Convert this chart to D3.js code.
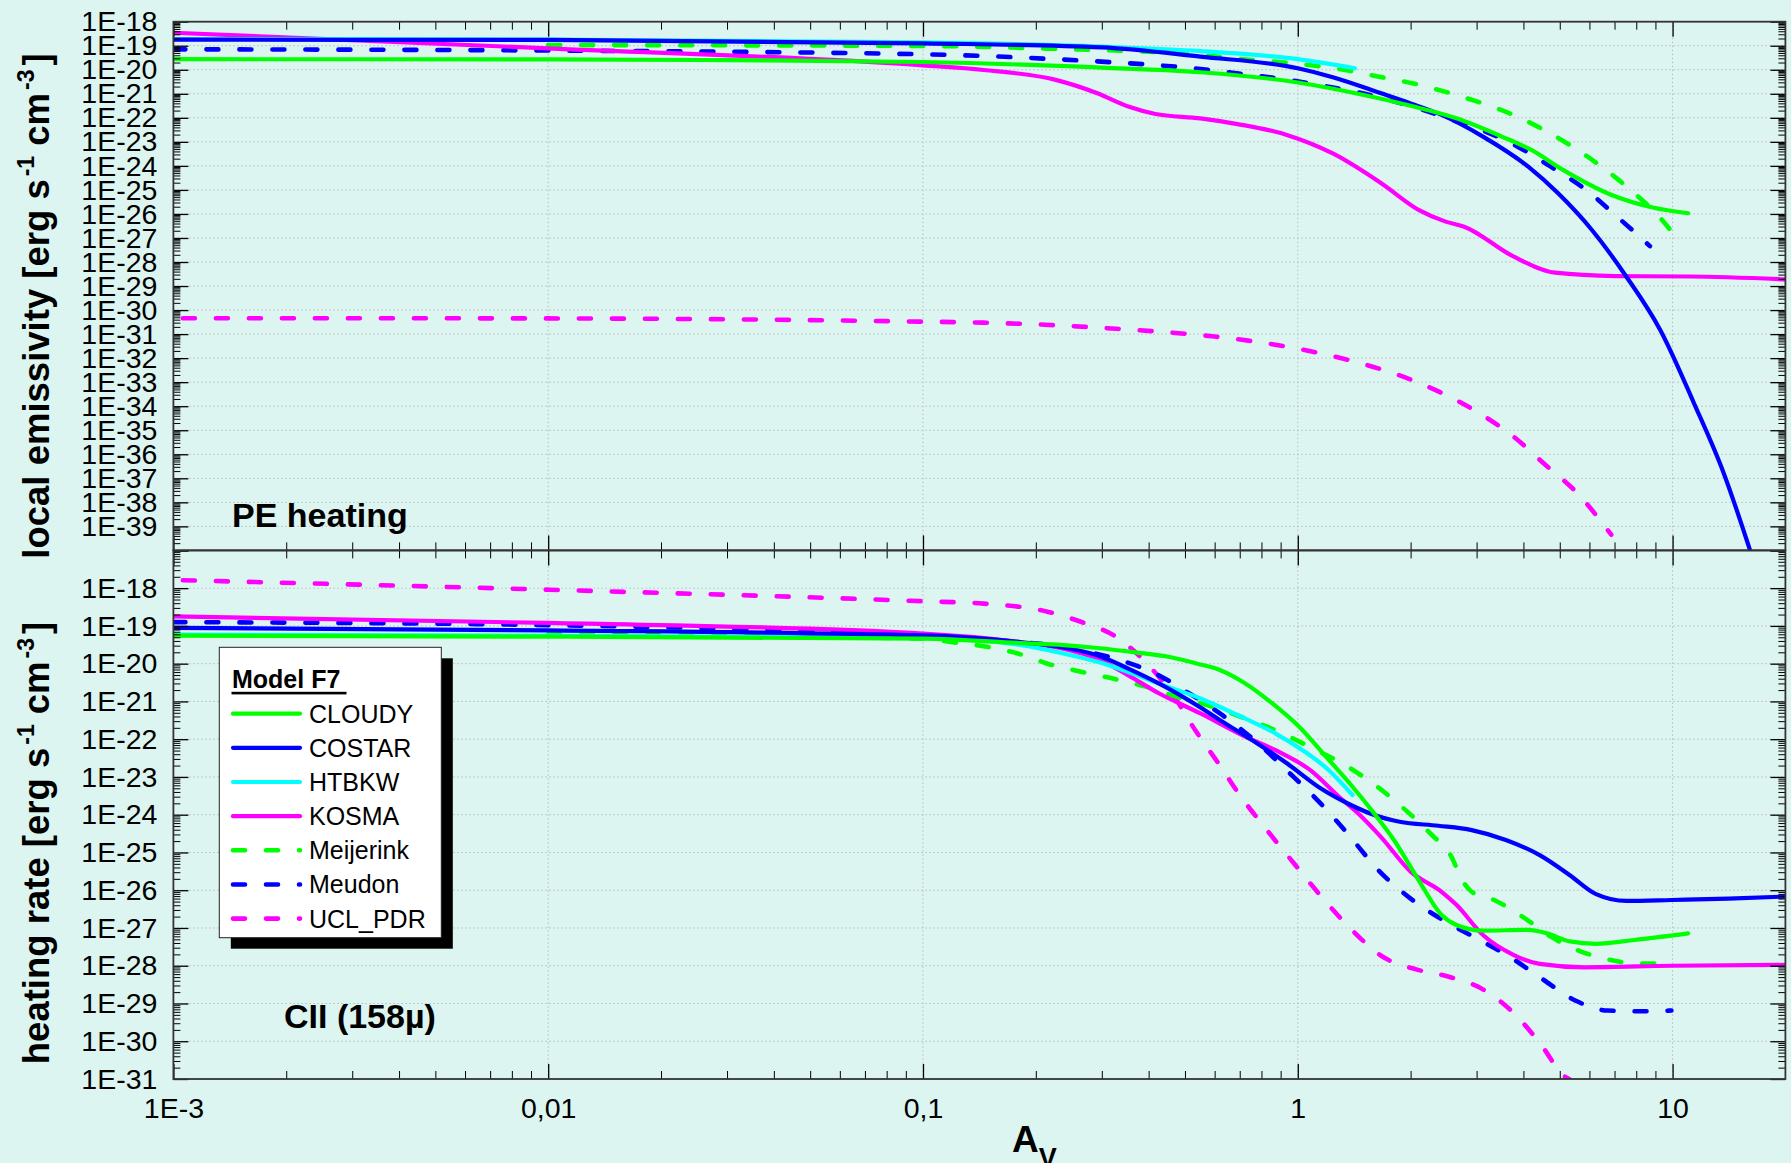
<!DOCTYPE html>
<html><head><meta charset="utf-8">
<script src="https://cdn.jsdelivr.net/npm/d3@7"></script>
<style>html,body{margin:0;padding:0;background:#DDF5F0;} svg{display:block}</style>
</head><body><svg id="c" width="1791" height="1163"></svg>
<script>
// ---------------- DATA ----------------
const seriesNames = ["CLOUDY","COSTAR","HTBKW","KOSMA","Meijerink","Meudon","UCL_PDR"];
const xTickValues = [0.001, 0.01, 0.1, 1, 10];
const xTickLabels = ["1E-3", "0,01", "0,1", "1", "10"];
const peTickValues = d3.range(-18, -40, -1).map(e => Math.pow(10, e));   // 1E-18 .. 1E-39
const ciiTickValues = d3.range(-18, -32, -1).map(e => Math.pow(10, e));  // 1E-18 .. 1E-31

// Top panel: PE heating  [Av, local emissivity]
const pe_CLOUDY = [[0.001,2.75e-20],[0.01,2.7e-20],[0.03,2.5e-20],[0.1,2.1e-20],[0.3,1.23e-20],[0.55,7.9e-21],[1.0,2.95e-21],[1.5,8.9e-22],[2.0,3.16e-22],[2.65,9.5e-23],[3.5,1.66e-23],[4.2,4.6e-24],[5.1,6.8e-25],[6.85,6.3e-26],[8.85,1.86e-26],[11.0,1.07e-26]];
const pe_COSTAR = [[0.001,1.78e-19],[0.01,1.74e-19],[0.1,1.26e-19],[0.3,8.5e-20],[0.55,3.5e-20],[1.0,1.15e-20],[1.24,4.9e-21],[1.67,1.05e-21],[2.0,4.0e-22],[2.42,1.32e-22],[3.12,1.66e-23],[4.12,9.3e-25],[4.95,7.2e-26],[6.1,2.1e-27],[7.53,2.45e-29],[9.27,1.48e-31],[11.4,1.35e-34],[13.7,1.6e-37],[16.1,1.0e-40]];
const pe_HTBKW = [[0.001,1.9e-19],[0.01,1.8e-19],[0.1,1.38e-19],[0.3,9.1e-20],[0.55,6.0e-20],[1.0,2.75e-20],[1.42,1.15e-20]];
const pe_KOSMA = [[0.001,3.47e-19],[0.01,7.8e-20],[0.1,1.53e-20],[0.145,9.8e-21],[0.226,3.8e-21],[0.292,1.05e-21],[0.353,2.95e-22],[0.417,1.45e-22],[0.55,9.5e-23],[0.69,5.5e-23],[0.935,1.95e-23],[1.24,3.3e-24],[1.67,1.9e-25],[2.1,1.48e-26],[2.48,4.8e-27],[2.78,2.95e-27],[3.76,1.7e-28],[4.85,3.6e-29],[7.03,2.6e-29],[11.1,2.5e-29],[20,1.9e-29]];
const pe_Meijerink = [[0.01,1.07e-19],[0.1,9.8e-20],[0.215,7.6e-20],[0.55,4.1e-20],[0.74,2.6e-20],[0.92,2.0e-20],[1.11,1.48e-20],[1.35,9.5e-21],[1.66,5.0e-21],[2.02,2.75e-21],[2.48,1.2e-21],[3.03,4.6e-22],[3.72,1.41e-22],[4.47,3.55e-23],[5.28,7.9e-24],[6.14,1.66e-24],[7.11,2.95e-25],[8.07,5.5e-26],[8.95,1.26e-26],[9.93,1.9e-27]];
const pe_Meudon = [[0.001,7.1e-20],[0.01,6.3e-20],[0.1,4.4e-20],[0.231,2.7e-20],[0.55,1.07e-20],[0.63,8.5e-21],[0.76,5.9e-21],[0.94,3.8e-21],[1.15,2.24e-21],[1.41,1.26e-21],[1.72,6.0e-22],[2.11,2.4e-22],[2.59,8.1e-23],[3.19,2.57e-23],[3.89,5.9e-24],[4.73,9.3e-25],[5.83,1.1e-25],[7.1,7.9e-27],[8.7,4.6e-28]];
const pe_UCL_PDR = [[0.00106,4.6e-31],[0.01,4.5e-31],[0.1,3.3e-31],[0.145,3.0e-31],[0.218,2.4e-31],[0.329,1.66e-31],[0.514,1.0e-31],[0.6,7.9e-32],[0.935,3.0e-32],[1.36,8.5e-33],[2.06,1.07e-33],[3.05,5.1e-35],[3.76,5.5e-36],[4.52,4.3e-37],[5.57,2.4e-38],[6.86,4.5e-40]];

// Bottom panel: CII (158µ)  [Av, heating rate]
const cii_CLOUDY = [[0.001,5.5e-20],[0.01,5.2e-20],[0.1,4.6e-20],[0.183,3.5e-20],[0.237,3.1e-20],[0.292,2.6e-20],[0.368,2.0e-20],[0.455,1.5e-20],[0.55,9.5e-21],[0.617,6.9e-21],[0.726,2.95e-21],[0.857,8.7e-22],[1.01,2.1e-22],[1.19,3.4e-23],[1.4,5.5e-24],[1.6,1.07e-24],[1.8,2.24e-25],[2.1,1.86e-26],[2.42,2.2e-27],[2.65,1.2e-27],[3.12,8.5e-28],[4.12,8.9e-28],[4.62,7.2e-28],[5.32,4.4e-28],[6.25,3.8e-28],[7.9,4.8e-28],[11.0,7.2e-28]];
const cii_COSTAR = [[0.001,8.9e-20],[0.01,7.6e-20],[0.1,5.6e-20],[0.183,3.7e-20],[0.237,2.7e-20],[0.292,1.66e-20],[0.353,7.4e-21],[0.427,2.95e-21],[0.55,6.9e-22],[0.63,2.9e-22],[0.778,7.8e-23],[0.935,2.3e-23],[1.15,5.0e-24],[1.39,1.78e-24],[1.6,9.8e-25],[1.87,6.5e-25],[2.37,5.1e-25],[2.91,3.9e-25],[3.59,2.14e-25],[4.42,8.5e-26],[5.32,2.5e-26],[6.25,7.9e-27],[7.53,5.2e-27],[9.93,5.5e-27],[14.1,6.0e-27],[20,6.8e-27]];
const cii_HTBKW = [[0.001,5.9e-20],[0.01,5.5e-20],[0.1,4.9e-20],[0.183,3.1e-20],[0.237,1.86e-20],[0.292,1.12e-20],[0.353,6.0e-21],[0.427,2.95e-21],[0.55,1.2e-21],[0.693,4.3e-22],[0.873,1.41e-22],[1.03,5.1e-23],[1.21,1.51e-23],[1.4,3.3e-24]];
const cii_KOSMA = [[0.001,1.78e-19],[0.01,1.2e-19],[0.1,6.3e-20],[0.183,3.7e-20],[0.237,2.5e-20],[0.292,1.35e-20],[0.353,4.9e-21],[0.427,1.62e-21],[0.55,4.8e-22],[0.726,1.15e-22],[0.873,5.1e-23],[1.08,1.51e-23],[1.29,2.95e-24],[1.45,1.07e-24],[1.67,2.5e-25],[2.0,3.1e-26],[2.42,9.1e-27],[2.65,4.1e-27],[3.12,6.5e-28],[3.76,1.95e-28],[4.42,1.12e-28],[5.83,9.1e-29],[9.93,1.0e-28],[20,1.05e-28]];
const cii_Meijerink = [[0.01,6.0e-20],[0.03,5.4e-20],[0.1,4.6e-20],[0.12,3.7e-20],[0.145,2.9e-20],[0.179,1.86e-20],[0.215,1.0e-20],[0.266,6.0e-21],[0.329,3.8e-21],[0.397,2.4e-21],[0.49,1.2e-21],[0.575,7.9e-22],[0.726,3.5e-22],[0.893,1.55e-22],[1.1,5.6e-23],[1.36,1.86e-23],[1.63,5.5e-24],[1.94,1.32e-24],[2.28,2.9e-25],[2.54,9.5e-26],[2.78,1.51e-26],[2.91,9.1e-27],[3.34,5.5e-27],[4.03,1.82e-27],[4.73,5.9e-28],[5.57,2.6e-28],[6.7,1.48e-28],[8.07,1.15e-28],[9.93,1.15e-28]];
const cii_Meudon = [[0.001,1.26e-19],[0.01,1.05e-19],[0.1,5.4e-20],[0.145,4.4e-20],[0.183,3.7e-20],[0.231,2.9e-20],[0.279,2.0e-20],[0.337,1.23e-20],[0.416,5.5e-21],[0.514,1.62e-21],[0.628,4.4e-22],[0.769,9.1e-23],[0.94,1.41e-23],[1.15,2.0e-24],[1.36,3.1e-25],[1.64,3.4e-26],[2.0,6.0e-27],[2.45,1.58e-27],[2.99,5.4e-28],[3.67,1.74e-28],[4.47,4.6e-29],[5.5,1.2e-29],[6.7,6.5e-30],[8.26,6.2e-30],[9.93,6.5e-30]];
const cii_UCL_PDR = [[0.00106,1.62e-18],[0.01,9.1e-19],[0.1,4.5e-19],[0.145,3.9e-19],[0.216,2.35e-19],[0.267,1.23e-19],[0.327,5.2e-20],[0.402,8.5e-21],[0.462,1.62e-21],[0.535,1.62e-22],[0.614,2.3e-23],[0.706,2.95e-24],[0.824,4.1e-25],[0.97,5.6e-26],[1.15,7.2e-27],[1.38,9.8e-28],[1.69,1.7e-28],[2.08,7.9e-29],[2.53,5.1e-29],[3.11,2.4e-29],[3.81,5.0e-30],[4.51,6.9e-31],[5.13,1.2e-31],[5.3,1.0e-31]];

// ---------------- STYLE / LAYOUT ----------------
const styles = {
  CLOUDY:    {color:"#00FF00", dashed:false},
  COSTAR:    {color:"#0000FF", dashed:false},
  HTBKW:     {color:"#00FFFF", dashed:false},
  KOSMA:     {color:"#FF00FF", dashed:false},
  Meijerink: {color:"#00FF00", dashed:true},
  Meudon:    {color:"#0000FF", dashed:true},
  UCL_PDR:   {color:"#FF00FF", dashed:true}
};
const peSeries  = {CLOUDY:pe_CLOUDY, COSTAR:pe_COSTAR, HTBKW:pe_HTBKW, KOSMA:pe_KOSMA, Meijerink:pe_Meijerink, Meudon:pe_Meudon, UCL_PDR:pe_UCL_PDR};
const ciiSeries = {CLOUDY:cii_CLOUDY, COSTAR:cii_COSTAR, HTBKW:cii_HTBKW, KOSMA:cii_KOSMA, Meijerink:cii_Meijerink, Meudon:cii_Meudon, UCL_PDR:cii_UCL_PDR};
const drawOrder = ["UCL_PDR","Meudon","Meijerink","KOSMA","HTBKW","COSTAR","CLOUDY"];

const FONT = "'Liberation Sans', Arial, sans-serif";
const L = 173.4, R = 1785.4, MID = 550.4;
const BG = "#DDF5F0";

const svg = d3.select("#c");
svg.append("rect").attr("width",1791).attr("height",1163).attr("fill",BG);

const x = d3.scaleLog().domain([0.001, 20]).range([L, R]);
const panels = [
  {id:"pe",  y: d3.scaleLog().domain([1e-40,1e-18]).range([MID, 21.7]), top:21.7, bottom:MID, data:peSeries, ticks:peTickValues},
  {id:"cii", y: d3.scaleLog().domain([1e-31,1e-17]).range([1079, MID]), top:MID, bottom:1079, data:ciiSeries, ticks:ciiTickValues}
];

const defs = svg.append("defs");

function minorValues(domain) {
  const lo = Math.floor(Math.log10(domain[0])), hi = Math.ceil(Math.log10(domain[1]));
  const out = [];
  for (let e = lo; e <= hi; e++) for (let k = 2; k <= 9; k++) {
    const v = k * Math.pow(10, e);
    if (v > domain[0] && v < domain[1]) out.push(v);
  }
  return out;
}
function majorValues(domain) {
  const lo = Math.ceil(Math.log10(domain[0]) - 1e-9), hi = Math.floor(Math.log10(domain[1]) + 1e-9);
  return d3.range(lo, hi + 1).map(e => Math.pow(10, e));
}
function styleAxis(g, w) {
  g.select(".domain").remove();
  g.selectAll(".tick line").attr("stroke","#000").attr("stroke-width", w);
}

panels.forEach(p => {
  const y = p.y;
  const g = svg.append("g");
  // grid
  const grid = g.append("g").attr("stroke","#b8bcbc").attr("stroke-width",1).attr("stroke-dasharray","1.5,2.5");
  majorValues(y.domain()).filter(v => v > y.domain()[0]*1.01 && v < y.domain()[1]*0.99).forEach(v => {
    grid.append("line").attr("x1",L).attr("x2",R).attr("y1",y(v)).attr("y2",y(v));
  });
  [0.01,0.1,1,10].forEach(v => {
    grid.append("line").attr("x1",x(v)).attr("x2",x(v)).attr("y1",p.top).attr("y2",p.bottom);
  });

  // clip
  defs.append("clipPath").attr("id","clip-"+p.id).append("rect")
    .attr("x",L).attr("y",p.top).attr("width",R-L).attr("height",p.bottom-p.top);

  const line = d3.line().x(d => x(d[0])).y(d => y(d[1])).curve(d3.curveMonotoneX);
  const lg = g.append("g").attr("clip-path","url(#clip-"+p.id+")");
  drawOrder.forEach(name => {
    const st = styles[name];
    lg.append("path").datum(p.data[name]).attr("d", line)
      .attr("fill","none").attr("stroke",st.color)
      .attr("stroke-width", st.dashed ? 4.6 : 4.2)
      .attr("stroke-linecap","round").attr("stroke-linejoin","round")
      .attr("stroke-dasharray", st.dashed ? "12,21" : null);
  });

  // y axes ticks (inward)
  const majY = majorValues(y.domain()), minY = minorValues(y.domain());
  styleAxis(g.append("g").attr("transform",`translate(${L},0)`).call(d3.axisRight(y).tickValues(majY).tickSize(15).tickFormat("")), 1.3);
  styleAxis(g.append("g").attr("transform",`translate(${L},0)`).call(d3.axisRight(y).tickValues(minY).tickSize(7).tickFormat("")), 1);
  styleAxis(g.append("g").attr("transform",`translate(${R},0)`).call(d3.axisLeft(y).tickValues(majY).tickSize(15).tickFormat("")), 1.3);
  styleAxis(g.append("g").attr("transform",`translate(${R},0)`).call(d3.axisLeft(y).tickValues(minY).tickSize(7).tickFormat("")), 1);
  // y labels
  const yl = g.append("g").attr("transform",`translate(${L},0)`)
    .call(d3.axisLeft(y).tickValues(p.ticks).tickSize(0).tickPadding(16)
      .tickFormat(d => "1E" + Math.round(Math.log10(d))));
  yl.select(".domain").remove();
  yl.selectAll("text").attr("font-family",FONT).attr("font-size",28.5).attr("fill","#000");

  // x ticks on top and bottom (inward)
  const majX = majorValues(x.domain()), minX = minorValues(x.domain());
  styleAxis(g.append("g").attr("transform",`translate(0,${p.top})`).call(d3.axisTop(x).tickValues(majX).tickSize(-15).tickFormat("")), 1.3);
  styleAxis(g.append("g").attr("transform",`translate(0,${p.top})`).call(d3.axisTop(x).tickValues(minX).tickSize(-8).tickFormat("")), 1);
  styleAxis(g.append("g").attr("transform",`translate(0,${p.bottom})`).call(d3.axisBottom(x).tickValues(majX).tickSize(-15).tickFormat("")), 1.3);
  styleAxis(g.append("g").attr("transform",`translate(0,${p.bottom})`).call(d3.axisBottom(x).tickValues(minX).tickSize(-8).tickFormat("")), 1);

  // frame
  g.append("rect").attr("x",L).attr("y",p.top).attr("width",R-L).attr("height",p.bottom-p.top)
    .attr("fill","none").attr("stroke","#333").attr("stroke-width",1.8);
});

// x labels
const xl = svg.append("g").attr("transform",`translate(0,1079)`)
  .call(d3.axisBottom(x).tickValues(xTickValues).tickSize(0).tickPadding(19)
    .tickFormat((d,i) => xTickLabels[i]));
xl.select(".domain").remove();
xl.selectAll("text").attr("font-family",FONT).attr("font-size",28.5).attr("fill","#000");

// x title A_V
const xt = svg.append("text").attr("x",1012).attr("y",1152).attr("font-family",FONT)
  .attr("font-weight","bold").attr("font-size",37).attr("fill","#000");
xt.append("tspan").text("A");
xt.append("tspan").attr("font-size",27).attr("dy",15).text("V");

// y titles
function yTitle(main, cx, cy) {
  const t = svg.append("text").attr("transform",`translate(${cx},${cy}) rotate(-90)`)
    .attr("text-anchor","middle").attr("font-family",FONT).attr("font-weight","bold")
    .attr("font-size",36.5).attr("fill","#000");
  t.append("tspan").text(main + " [erg s");
  t.append("tspan").attr("font-size",23).attr("dy",-15).attr("dx",3).text("-1");
  t.append("tspan").attr("dy",15).text("  cm");
  t.append("tspan").attr("font-size",23).attr("dy",-15).attr("dx",3).text("-3");
  t.append("tspan").attr("dy",15).attr("dx",4).text("]");
}
yTitle("local emissivity", 49, 306);
yTitle("heating rate", 49, 843);

// panel labels
svg.append("text").attr("x",232).attr("y",527).attr("font-family",FONT).attr("font-weight","bold")
  .attr("font-size",34).attr("fill","#000").text("PE heating");
svg.append("text").attr("x",284).attr("y",1028).attr("font-family",FONT).attr("font-weight","bold")
  .attr("font-size",34).attr("fill","#000").text("CII (158µ)");

// legend
const lgX = 219.3, lgY = 647.3, lgW = 222, lgH = 290.4;
svg.append("rect").attr("x",lgX+11.5).attr("y",lgY+11).attr("width",lgW).attr("height",lgH).attr("fill","#000");
svg.append("rect").attr("x",lgX).attr("y",lgY).attr("width",lgW).attr("height",lgH)
  .attr("fill","#fff").attr("stroke","#222").attr("stroke-width",1);
svg.append("text").attr("x",232).attr("y",688).attr("font-family",FONT).attr("font-weight","bold")
  .attr("font-size",25).attr("fill","#000").text("Model F7");
svg.append("rect").attr("x",231.5).attr("y",691.8).attr("width",115).attr("height",2.6).attr("fill","#000");
seriesNames.forEach((name, i) => {
  const st = styles[name];
  const ly = 713.7 + i * 34.15;
  svg.append("line").attr("x1",233).attr("x2",300).attr("y1",ly).attr("y2",ly)
    .attr("stroke",st.color).attr("stroke-width",st.dashed ? 4.6 : 4.2).attr("stroke-linecap","round")
    .attr("stroke-dasharray", st.dashed ? "12,21" : null);
  svg.append("text").attr("x",309).attr("y",ly+9).attr("font-family",FONT).attr("font-size",25)
    .attr("fill","#000").text(name);
});
</script></body></html>
